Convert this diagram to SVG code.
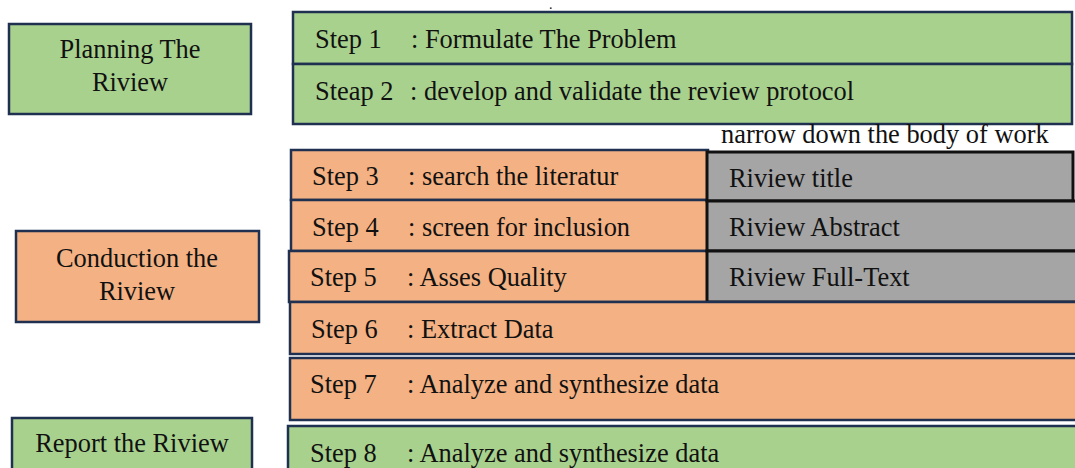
<svg xmlns="http://www.w3.org/2000/svg" width="1075" height="468" viewBox="0 0 1075 468">
<style>
text{font-family:"Liberation Serif","Times New Roman",serif;font-size:26.4px;fill:#111}
.g{fill:#a9d18e;stroke:#1f3050;stroke-width:2.5}
.o{fill:#f4b183;stroke:#1f3050;stroke-width:2.5}
.k{fill:#a5a5a5;stroke:#111;stroke-width:3}
.c{text-anchor:middle}
</style>
<rect width="1075" height="468" fill="#fff"/>
<text x="549" y="9" style="font-size:14px">.</text>
<g id="planning">
<rect class="g" x="9" y="24" width="242" height="90"/>
<text class="c" x="130" y="58">Planning The</text>
<text class="c" x="130" y="91">Riview</text>
</g>
<g id="conduction">
<rect class="o" x="16" y="231" width="243" height="91"/>
<text class="c" x="137" y="267">Conduction the</text>
<text class="c" x="137" y="300">Riview</text>
</g>
<g id="report">
<rect class="g" x="12" y="418" width="240" height="60"/>
<text class="c" x="132" y="452">Report the Riview</text>
</g>
<g id="step1">
<rect class="g" x="293" y="12" width="779" height="52"/>
<text x="315" y="48">Step 1</text><text x="411" y="48">: Formulate The Problem</text>
</g>
<g id="step2">
<rect class="g" x="293" y="64" width="779" height="60"/>
<text x="315" y="100">Steap 2</text><text x="410" y="100">: develop and validate the review protocol</text>
</g>
<text id="narrow" x="721" y="143">narrow down the body of work</text>
<g id="step3">
<rect class="o" x="291" y="150" width="417" height="50"/>
<text x="312" y="185">Step 3</text><text x="408" y="185">: search the literatur</text>
</g>
<g id="step4">
<rect class="o" x="291" y="200" width="417" height="51"/>
<text x="312" y="236">Step 4</text><text x="408" y="236">: screen for inclusion</text>
</g>
<g id="step5">
<rect class="o" x="289" y="251" width="419" height="51"/>
<text x="310" y="286">Step 5</text><text x="407" y="286">: Asses Quality</text>
</g>
<g id="title">
<rect class="k" x="707" y="152" width="366" height="49"/>
<text x="729" y="187">Riview title</text>
</g>
<g id="abstract">
<rect class="k" x="707" y="201" width="370" height="50"/>
<text x="729" y="236">Riview Abstract</text>
</g>
<g id="fulltext">
<rect class="k" x="707" y="251" width="370" height="51"/>
<text x="729" y="286">Riview Full-Text</text>
</g>
<g id="step6">
<rect class="o" x="290" y="302" width="790" height="52"/>
<text x="311" y="338">Step 6</text><text x="407" y="338">: Extract Data</text>
</g>
<g id="step7">
<rect class="o" x="290" y="358" width="790" height="62"/>
<text x="310" y="393">Step 7</text><text x="407" y="393">: Analyze and synthesize data</text>
</g>
<g id="step8">
<rect class="g" x="288" y="426" width="792" height="60"/>
<text x="310" y="462">Step 8</text><text x="407" y="462">: Analyze and synthesize data</text>
</g>
<g id="connectors"></g>
</svg>
